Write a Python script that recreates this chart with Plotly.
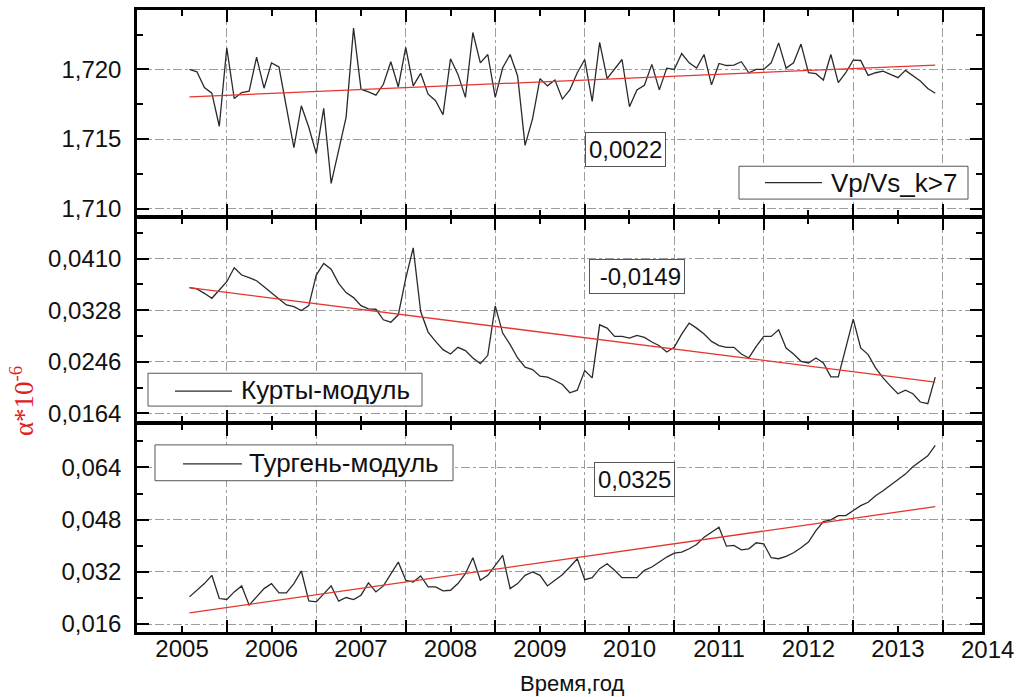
import plotly.graph_objects as go
from plotly.subplots import make_subplots

# ---------------- data ----------------
start_year = 2005
start_month = 2          # first monthly sample: Feb 2005
n_months = 101

vpvs = [1.72000, 1.71983, 1.71870, 1.71829, 1.71592, 1.72154, 1.71791, 1.71834, 1.71844, 1.72088,
        1.71865, 1.72047, 1.72017, 1.71716, 1.71438, 1.71739, 1.71585, 1.71396, 1.71720, 1.71182,
        1.71408, 1.71656, 1.72296, 1.71858, 1.71839, 1.71815, 1.71893, 1.72055, 1.71874, 1.72159,
        1.71882, 1.71972, 1.71822, 1.71775, 1.71675, 1.72076, 1.71964, 1.71799, 1.72265, 1.72047,
        1.72107, 1.71799, 1.72012, 1.72107, 1.71953, 1.71455, 1.71645, 1.71934, 1.71882, 1.71924,
        1.71787, 1.71853, 1.71976, 1.72071, 1.71770, 1.72194, 1.71934, 1.72000, 1.72071, 1.71732,
        1.71853, 1.71886, 1.72036, 1.71853, 1.72009, 1.72000, 1.72114, 1.72047, 1.72009, 1.72107,
        1.71889, 1.72043, 1.72028, 1.72031, 1.72055, 1.71976, 1.72000, 1.72000, 1.72047, 1.72190,
        1.72009, 1.72047, 1.72182, 1.71976, 1.71969, 1.71924, 1.72107, 1.71905, 1.71976, 1.72066,
        1.72064, 1.71957, 1.71976, 1.71988, 1.71964, 1.71941, 1.71993, 1.71953, 1.71917, 1.71863,
        1.71829]

kurty = [0.03637, 0.03616, 0.03547, 0.03468, 0.03600, 0.03731, 0.03953, 0.03837, 0.03795, 0.03747,
         0.03652, 0.03547, 0.03457, 0.03363, 0.03336, 0.03273, 0.03352, 0.03837, 0.04021, 0.03931,
         0.03705, 0.03558, 0.03479, 0.03352, 0.03299, 0.03294, 0.03126, 0.03089, 0.03205, 0.03784,
         0.04269, 0.03257, 0.02931, 0.02783, 0.02652, 0.02583, 0.02689, 0.02636, 0.02520, 0.02430,
         0.02562, 0.03347, 0.02915, 0.02731, 0.02520, 0.02373, 0.02336, 0.02230, 0.02215, 0.02162,
         0.02099, 0.01967, 0.02009, 0.02320, 0.02204, 0.03047, 0.02994, 0.02862, 0.02862, 0.02836,
         0.02878, 0.02847, 0.02773, 0.02715, 0.02615, 0.02689, 0.02899, 0.03073, 0.02994, 0.02899,
         0.02783, 0.02715, 0.02689, 0.02689, 0.02583, 0.02520, 0.02704, 0.02862, 0.02862, 0.02968,
         0.02678, 0.02583, 0.02467, 0.02441, 0.02520, 0.02441, 0.02220, 0.02220, 0.02678, 0.03136,
         0.02678, 0.02573, 0.02362, 0.02204, 0.02072, 0.01951, 0.02009, 0.01951, 0.01820, 0.01793,
         0.02215]

turgen = [0.02433, 0.02636, 0.02840, 0.03094, 0.02382, 0.02352, 0.02585, 0.02769, 0.02179, 0.02433,
          0.02687, 0.02840, 0.02555, 0.02555, 0.02840, 0.03226, 0.02311, 0.02280, 0.02535, 0.02769,
          0.02301, 0.02413, 0.02352, 0.02484, 0.02860, 0.02585, 0.02769, 0.03145, 0.03501, 0.02942,
          0.02891, 0.03074, 0.02738, 0.02738, 0.02616, 0.02636, 0.02840, 0.03145, 0.03633, 0.02942,
          0.03094, 0.03399, 0.03704, 0.02687, 0.02840, 0.03094, 0.03196, 0.03094, 0.02769, 0.02942,
          0.03114, 0.03348, 0.03603, 0.02962, 0.03023, 0.03298, 0.03450, 0.03247, 0.03023, 0.03023,
          0.03023, 0.03247, 0.03348, 0.03501, 0.03654, 0.03776, 0.03806, 0.03908, 0.04040, 0.04264,
          0.04416, 0.04569, 0.03989, 0.04010, 0.03877, 0.03908, 0.04091, 0.04060, 0.03633, 0.03603,
          0.03674, 0.03786, 0.03938, 0.04111, 0.04467, 0.04742, 0.04793, 0.04925, 0.04925, 0.05078,
          0.05230, 0.05332, 0.05535, 0.05688, 0.05861, 0.06013, 0.06197, 0.06420, 0.06583, 0.06756,
          0.07082]

# linear trend end points (red lines)
trend_vpvs = [1.71803, 1.72031]
trend_kurty = [0.03637, 0.02136]
trend_turgen = [0.01945, 0.05200]

slope_labels = ["0,0022", " -0,0149", "0,0325"]
series_names = ["Vp/Vs_k>7", "Курты-модуль", "Тургень-модуль"]

year_ticks = list(range(2005, 2014))
year_grid = [y + 0.5 for y in range(2005, 2014)]

y_top_ticks = [1.710, 1.715, 1.720]
y_top_text = ["1,710", "1,715", "1,720"]
y_top_minor = [1.7125, 1.7175, 1.7225]
y_mid_ticks = [0.0164, 0.0246, 0.0328, 0.0410]
y_mid_text = ["0,0164", "0,0246", "0,0328", "0,0410"]
y_mid_minor = [0.0205, 0.0287, 0.0369, 0.0451]
y_bot_ticks = [0.016, 0.032, 0.048, 0.064]
y_bot_text = ["0,016", "0,032", "0,048", "0,064"]
y_bot_minor = [0.024, 0.040, 0.056, 0.072]

x_range = [2004.497, 2013.939]
y_ranges = [[1.709496, 1.724264], [0.015064, 0.047395], [0.013559, 0.077259]]

# ---------------- figure ----------------
t = [start_year + (start_month - 1 + i) / 12.0 for i in range(n_months)]
t_trend = [t[0], t[-1]]

W, H = 1020, 697
ML, MR, MT, MB = 137, 38, 7, 65
PW, PH = W - ML - MR, H - MT - MB

def px(xp):
    return (xp - ML) / PW

def py(yp):
    return (H - MB - yp) / PH

fig = make_subplots(rows=3, cols=1, vertical_spacing=0)

FONT = "Liberation Sans, Arial, sans-serif"
series = [vpvs, kurty, turgen]
trends = [trend_vpvs, trend_kurty, trend_turgen]
for r in range(3):
    fig.add_trace(go.Scatter(x=t, y=series[r], mode="lines", name=series_names[r],
                             line=dict(color="#2a2a2a", width=1.3), showlegend=False),
                  row=r + 1, col=1)
    fig.add_trace(go.Scatter(x=t_trend, y=trends[r], mode="lines", name="trend",
                             line=dict(color="#e5352e", width=1.3), showlegend=False),
                  row=r + 1, col=1)

# domains: panels share a single frame line (gap = frame line width)
LW = 2.5
bounds = [(7, 215 - LW / 2), (215 + LW / 2, 422 - LW / 2), (422 + LW / 2, 632)]
grid_col = "#9c9c9c"
for r in range(3):
    top, bot = bounds[r]
    fig.update_yaxes(domain=[py(bot), py(top)], row=r + 1, col=1)
    fig.update_xaxes(
        range=x_range, tickvals=year_ticks, ticktext=[str(v) for v in year_ticks],
        ticks="inside", ticklen=6, tickwidth=2, tickcolor="black",
        showline=True, linewidth=LW, linecolor="black", mirror="allticks",
        showgrid=False, zeroline=False,
        showticklabels=(r == 2), ticklabelstandoff=-7,
        tickfont=dict(family=FONT, size=24, color="#111"),
        minor=dict(tickvals=year_grid, ticks="inside", ticklen=12, tickwidth=2,
                   tickcolor="black", showgrid=True, gridcolor=grid_col,
                   griddash="dashdot", gridwidth=1),
        row=r + 1, col=1)

ytick_sets = [(y_top_ticks, y_top_text, y_top_minor),
              (y_mid_ticks, y_mid_text, y_mid_minor),
              (y_bot_ticks, y_bot_text, y_bot_minor)]
for r in range(3):
    tv, tt, mn = ytick_sets[r]
    fig.update_yaxes(
        range=y_ranges[r], tickvals=tv, ticktext=tt,
        ticks="inside", ticklen=12, tickwidth=2, tickcolor="black",
        showline=True, linewidth=LW, linecolor="black", mirror="allticks",
        showgrid=True, gridcolor=grid_col, griddash="dashdot", gridwidth=1,
        zeroline=False, ticklabelstandoff=8,
        tickfont=dict(family=FONT, size=24, color="#111"),
        minor=dict(tickvals=mn, ticks="inside", ticklen=6, tickwidth=2,
                   tickcolor="black", showgrid=False),
        row=r + 1, col=1)

# slope boxes
box_pos = [(625.5, 147.5), (637, 274.5), (634, 478.5)]
for (bx, by), txt in zip(box_pos, slope_labels):
    fig.add_annotation(x=px(bx), y=py(by), xref="paper", yref="paper",
                       text=txt, showarrow=False, xanchor="center", yanchor="middle",
                       font=dict(family=FONT, size=24, color="#111"),
                       bordercolor="#555", borderwidth=1, borderpad=3, bgcolor="white")

# legend boxes (frame, line sample, label) for each panel
legend_boxes = [  # (x0, x1, y0, y1, line_x0, line_x1, line_y, text_x, text_y)
    (739, 968, 164, 197, 765, 822, 180.5, 829, 180.5),
    (148, 422, 372, 405, 175, 232, 390, 239, 389),
    (155, 453, 444, 480, 183, 242, 463, 247, 462),
]
for (x0, x1, y0, y1, lx0, lx1, ly, tx, ty), name in zip(legend_boxes, series_names):
    fig.add_shape(type="rect", xref="paper", yref="paper",
                  x0=px(x0), x1=px(x1), y0=py(y1), y1=py(y0),
                  line=dict(color="#555", width=1), fillcolor="white", layer="above")
    fig.add_shape(type="line", xref="paper", yref="paper",
                  x0=px(lx0), x1=px(lx1), y0=py(ly), y1=py(ly),
                  line=dict(color="#2a2a2a", width=1.3), layer="above")
    fig.add_annotation(x=px(tx), y=py(ty), xref="paper", yref="paper", text=name,
                       showarrow=False, xanchor="left", yanchor="middle",
                       font=dict(family=FONT, size=26, color="#111"))

# 2014 label beyond right edge
fig.add_annotation(x=(2014 - x_range[0]) / (x_range[1] - x_range[0]), y=py(650),
                   xref="paper", yref="paper", text="2014", showarrow=False,
                   xanchor="center", yanchor="middle",
                   font=dict(family=FONT, size=24, color="#111"))

# axis titles
fig.add_annotation(x=px(572), y=py(684), xref="paper", yref="paper", text="Время,год",
                   showarrow=False, xanchor="center", yanchor="middle",
                   font=dict(family=FONT, size=22, color="#111"))
fig.add_annotation(x=px(22), y=py(400), xref="paper", yref="paper",
                   text="α*10<sup>-6</sup>", textangle=-90, showarrow=False,
                   xanchor="center", yanchor="middle",
                   font=dict(family="Liberation Serif, Times New Roman, serif", size=27,
                             color="#e0201a"))

fig.update_layout(width=W, height=H, margin=dict(l=ML, r=MR, t=MT, b=MB),
                  paper_bgcolor="white", plot_bgcolor="white", showlegend=False)

fig.write_html("out.html")
